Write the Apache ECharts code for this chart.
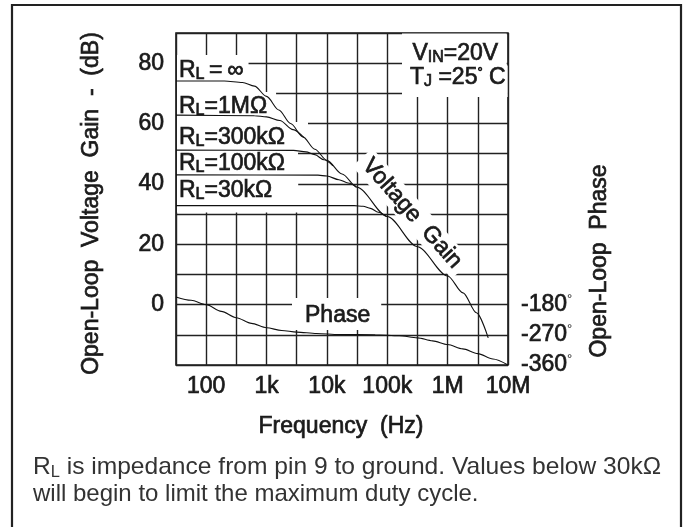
<!DOCTYPE html>
<html>
<head>
<meta charset="utf-8">
<script src="https://cdn.jsdelivr.net/npm/echarts@6/dist/echarts.min.js"></script>
<style>
html, body { margin: 0; padding: 0; background: #fff; }
#chart { width: 686px; height: 527px; }
</style>
</head>
<body>
<div id="chart"></div>
<script>
// axis ticks
var tickFreqs = [100, 1000, 10000, 100000, 1000000, 10000000];
var tickNames = ['100', '1k', '10k', '100k', '1M', '10M'];
var gainTicks = [0, 20, 40, 60, 80];
var phaseTicks = [-180, -270, -360];

// open-loop gain (dB) vs frequency (Hz), one curve per load
var freqInf = [31.6, 200, 400, 630, 1000, 1600, 2500, 4000, 6300, 10000, 17800, 31600, 100000, 316000, 1000000, 1800000, 3000000, 4700000];
var gainInf = [74.1, 74.1, 73.6, 72.4, 69.0, 64.5, 60.0, 55.6, 51.5, 47.8, 43.3, 38.9, 29.2, 19.2, 9.5, 3.9, -2.7, -11.0];

var freq1M = [31.6, 630, 1000, 1660, 2750, 4170];
var gain1M = [62.8, 62.6, 62.2, 61.0, 58.0, 55.3];

var freq300k = [31.6, 2800, 4500, 6300, 8900, 12600];
var gain300k = [51.2, 51.1, 50.6, 49.7, 48.0, 46.0];

var freq100k = [31.6, 7100, 10000, 15800, 22400, 30900];
var gain100k = [43.0, 42.9, 42.6, 41.4, 40.3, 39.1];

var freq30k = [31.6, 28200, 39800, 52500, 70800, 97700];
var gain30k = [32.8, 32.8, 32.6, 31.9, 30.6, 29.2];

// open-loop phase (degrees)
var freqPhase = [31.6, 56.2, 100, 178, 316, 562, 1000, 1780, 3160, 6760, 15800, 63100, 158000, 316000, 562000, 1000000, 1780000, 3160000, 5620000, 10000000];
var phase = [-157, -167, -180, -200, -219, -236, -249, -257, -262, -266, -269, -270, -273, -279, -288, -299, -312, -326, -342, -360];

var FONT = 'Liberation Sans, Arial, Helvetica, sans-serif';
var INK = '#1a1a1a';
var HEAVY = 0.7;   // extra stroke to thicken the chart lettering

function pairs(fs, vs) {
    return fs.map(function (f, i) { return [Math.log10(f), vs[i]]; });
}

function curve(fs, vs, axis) {
    return {
        type: 'line',
        yAxisIndex: axis || 0,
        data: pairs(fs, vs),
        showSymbol: false,
        smooth: 0.3,
        smoothMonotone: 'x',
        silent: true,
        z: 3,
        lineStyle: { color: '#111', width: 1.1 }
    };
}

function txt(o, plain) {
    o.type = 'text';
    o.z = 1;
    o.silent = true;
    o.style.fontFamily = o.style.fontFamily || FONT;
    o.style.fill = o.style.fill || INK;
    if (!plain) {
        o.style.stroke = o.style.fill;
        o.style.lineWidth = HEAVY;
    }
    return o;
}

var big = { fontSize: 23, lineHeight: 24, fontFamily: FONT };
var small = { fontSize: 16, lineHeight: 19, verticalAlign: 'bottom', fontFamily: FONT };
var deg = { fontSize: 13, lineHeight: 16, verticalAlign: 'top', fontFamily: FONT };

function rlLabel(value, y, pad) {
    return txt({
        x: 177, y: y,
        style: {
            text: '{a|R}{b|L}{a|' + value + '}',
            rich: { a: big, b: small },
            align: 'left', verticalAlign: 'top',
            backgroundColor: '#fff', padding: pad
        }
    });
}

var myChart = echarts.init(document.getElementById('chart'));

var option = {
    backgroundColor: '#fff',
    animation: false,
    grid: { left: 176, right: 178, top: 33, bottom: 162, show: true, borderColor: '#1a1a1a', borderWidth: 1.6 },
    xAxis: {
        type: 'value', min: 1.5, max: 7, interval: 0.5,
        axisLine: { show: false }, axisTick: { show: false },
        splitLine: { show: true, lineStyle: { color: '#222', width: 1.4 } },
        axisLabel: {
            margin: 10, fontSize: 23, lineHeight: 24, color: INK, fontFamily: FONT,
            textBorderColor: INK, textBorderWidth: HEAVY,
            formatter: function (v) {
                for (var i = 0; i < tickFreqs.length; i++) {
                    if (Math.abs(Math.log10(tickFreqs[i]) - v) < 1e-6) return tickNames[i];
                }
                return '';
            }
        }
    },
    yAxis: [{
        type: 'value', min: -20, max: 90, interval: 10,
        axisLine: { show: false }, axisTick: { show: false },
        splitLine: { show: true, lineStyle: { color: '#222', width: 1.4 } },
        axisLabel: {
            margin: 12, fontSize: 23, color: INK, fontFamily: FONT,
            textBorderColor: INK, textBorderWidth: HEAVY,
            formatter: function (v) { return gainTicks.indexOf(v) >= 0 ? String(v) : ''; }
        }
    }, {
        type: 'value', min: -360, max: 630, interval: 90, position: 'right',
        axisLine: { show: false }, axisTick: { show: false }, splitLine: { show: false },
        axisLabel: {
            margin: 13, color: INK,
            formatter: function (v) { return phaseTicks.indexOf(v) >= 0 ? '{a|' + v + '}{d|°}' : ''; },
            rich: {
                a: { fontSize: 23, lineHeight: 24, fontFamily: FONT, color: INK, textBorderColor: INK, textBorderWidth: HEAVY },
                d: { fontSize: 13, lineHeight: 16, verticalAlign: 'top', fontFamily: FONT, color: INK }
            }
        }
    }],
    series: [
        curve(freqInf, gainInf),
        curve(freq1M, gain1M),
        curve(freq300k, gain300k),
        curve(freq100k, gain100k),
        curve(freq30k, gain30k),
        curve(freqPhase, phase, 1)
    ],
    graphic: [
        { type: 'rect', silent: true, z: 1, shape: { x: 12, y: 5, width: 669, height: 560 }, style: { fill: 'none', stroke: '#222', lineWidth: 2.2 } },
        txt({ x: 91.5, y: 203.5, rotation: Math.PI / 2, style: { text: 'Open-Loop  Voltage  Gain  -  (dB)', fontSize: 23, align: 'center', verticalAlign: 'middle' } }),
        txt({ x: 600, y: 261, rotation: Math.PI / 2, style: { text: 'Open-Loop  Phase', fontSize: 23, align: 'center', verticalAlign: 'middle' } }),
        txt({ x: 341, y: 427, style: { text: 'Frequency  (Hz)', fontSize: 23, align: 'center', verticalAlign: 'middle' } }),
        rlLabel('\u2009=\u2009∞', 55, [3.5, 5, 9.5, 2]),
        rlLabel('=1MΩ', 92, [2.5, 9, 3.5, 2]),
        rlLabel('=300kΩ', 122, [3.5, 23, 1.5, 2]),
        rlLabel('=100kΩ', 151, [0.5, 13, 3.5, 2]),
        rlLabel('=30kΩ', 179, [0, 26, 9.5, 2]),
        txt({ x: 402, y: 33.5, style: {
            text: '{a|V}{b|IN}{a|=20V}', rich: { a: big, b: small },
            align: 'left', verticalAlign: 'top', backgroundColor: '#fff', padding: [8.5, 8.5, 0, 10.5] } }),
        txt({ x: 402, y: 65.5, style: {
            text: '{a|T}{b|J}{a| =25}{d|°}{a| C}', rich: { a: big, b: small, d: deg },
            align: 'left', verticalAlign: 'top', backgroundColor: '#fff', padding: [0, 2, 7.5, 8] } }),
        txt({ x: 412, y: 213.5, rotation: -48.5 * Math.PI / 180, style: {
            text: 'Voltage  Gain', fontSize: 23, align: 'center', verticalAlign: 'middle',
            backgroundColor: '#fff', padding: [2, 6, 2, 6] } }),
        txt({ x: 292, y: 298, style: {
            text: 'Phase', fontSize: 23, lineHeight: 24, align: 'left', verticalAlign: 'top',
            backgroundColor: '#fff', padding: [6, 11, 2, 13] } }),
        txt({ x: 33, y: 467.5, scaleX: 1.024, style: {
            text: '{r|R}{s|L}{r| is impedance from pin 9 to ground. Values below 30kΩ}',
            rich: {
                r: { fontSize: 24, lineHeight: 26, fontFamily: FONT },
                s: { fontSize: 16, lineHeight: 14, verticalAlign: 'bottom', fontFamily: FONT }
            },
            align: 'left', verticalAlign: 'middle', fill: '#333' } }, true),
        txt({ x: 33, y: 494, style: {
            text: 'will begin to limit the maximum duty cycle.', fontSize: 24,
            align: 'left', verticalAlign: 'middle', fill: '#333' } }, true)
    ]
};

myChart.setOption(option);
</script>
</body>
</html>
